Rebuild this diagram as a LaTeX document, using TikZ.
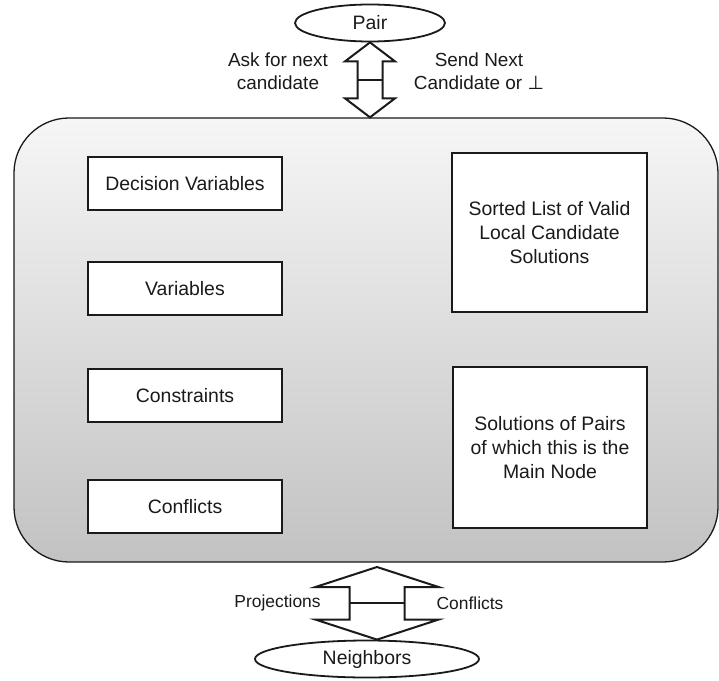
\documentclass[tikz,border=0pt]{standalone}
\usepackage{fontspec}
\setmainfont{Liberation Sans}
\newfontfamily\symfont{DejaVu Sans}
\usetikzlibrary{positioning}
\usetikzlibrary{shapes.geometric}
\usetikzlibrary{calc}
\definecolor{boxTop}{HTML}{F6F6F6}
\definecolor{boxBottom}{HTML}{C2C2C2}
\definecolor{ink}{HTML}{1A1A1A}

\begin{document}
\begin{tikzpicture}[x=1bp, y=-1bp, ink,
  myBox/.style={draw, line width=2.5bp, fill=white, inner sep=0pt, align=center,
                font=\fontsize{19.5}{24}\selectfont},
  myOval/.style={draw, ellipse, line width=1.8bp, fill=white, inner sep=0pt,
                 font=\fontsize{19.5}{24}\selectfont},
  myLabel/.style={inner sep=0pt, align=center, font=\fontsize{19}{23}\selectfont},
  myArrow/.style={draw, line width=2bp, fill=white, line join=miter}
]

\useasboundingbox (0,0) rectangle (719,681);

% big node
\node[draw, line width=1.3bp, rounded corners=55bp, top color=boxTop, bottom color=boxBottom,
      minimum width=704bp, minimum height=444bp] (main) at (366,340) {};

% left column
\node[myBox, minimum width=194bp, minimum height=53bp] (decvar) at (185,183.5) {Decision Variables};
\node[myBox, minimum width=194bp, minimum height=53bp] (var) at (185,288.5) {Variables};
\node[myBox, minimum width=194bp, minimum height=53bp] (cons) at (185,395.5) {Constraints};
\node[myBox, minimum width=194bp, minimum height=53bp] (conf) at (185,506.5) {Conflicts};

% right column
\node[myBox, minimum width=195bp, minimum height=159bp] (sorted) at (549.5,232.5)
  {Sorted List of Valid\\Local Candidate\\Solutions};
\node[myBox, minimum width=194bp, minimum height=161bp] (pairsol) at (550,447.5)
  {Solutions of Pairs\\of which this is the\\Main Node};

% ovals
\node[myOval, minimum width=150bp, minimum height=37bp] (pair) at (370,23) {Pair};

% top arrow
\coordinate (topA) at (pair.south);
\coordinate (topB) at (pair.south |- main.north);
\draw[myArrow] (topA) -- ++(25,19) -- ++(-12.5,0) -- ($(topB)+(12.5,-19)$) -- ++(12.5,0)
  -- (topB) -- ++(-25,-19) -- ++(12.5,0) -- ($(topA)+(-12.5,19)$) -- ++(-12.5,0) -- cycle;
\draw[myArrow] ($(topA)!0.5!(topB)+(-12.5,0)$) -- ++(25,0);

\node[myLabel] (ask) at (278,71.5) {Ask for next\\candidate};
\node[myLabel] (send) at (479,71.5) {Send Next\\Candidate or {\symfont ⊥}};

% bottom arrow
\node[myOval, minimum width=224bp, minimum height=37bp] (neighbors) at (367,659) {Neighbors};
\coordinate (botA) at (377,567);
\coordinate (botB) at (botA |- neighbors.north);
\draw[myArrow] (botA) -- ++(61.5,20) -- ++(-34,0) -- ($(botB)+(27.5,-20)$) -- ++(34,0)
  -- (botB) -- ++(-61.5,-20) -- ++(34,0) -- ($(botA)+(-27.5,20)$) -- ++(-34,0) -- cycle;
\draw[myArrow] ($(botA)!0.5!(botB)+(-27.5,0)$) -- ++(55,0);

\node[myLabel, font=\fontsize{17.5}{23}\selectfont] (proj) at (277.5,603) {Projections};
\node[myLabel, font=\fontsize{17.5}{23}\selectfont] (confl) at (470,603) {Conflicts};

\end{tikzpicture}
\end{document}
